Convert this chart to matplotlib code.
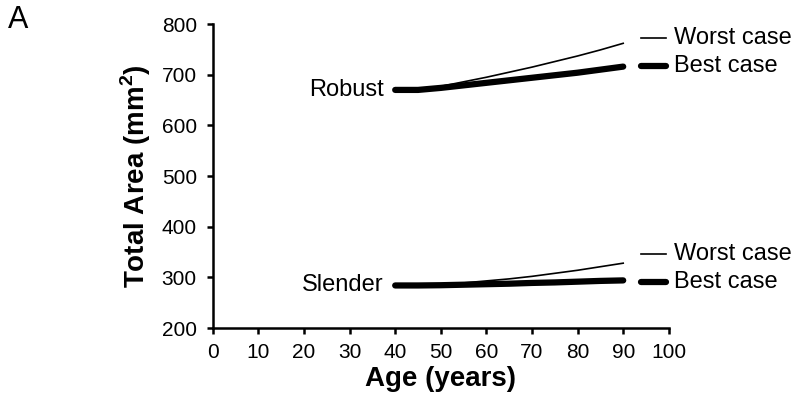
import matplotlib
matplotlib.use("Agg")
from matplotlib import pyplot as plt

plt.rcParams['font.family'] = ['Liberation Sans', 'DejaVu Sans']

# ages (years)
age = [40, 45, 50, 55, 60, 65, 70, 75, 80, 85, 90]

# total area (mm^2)
robust_worst = [670, 670, 677, 686, 695, 705, 715, 726, 737, 749, 762]
robust_best = [670, 670, 674, 679, 684, 689, 694, 699, 704, 710, 716]
slender_worst = [284, 284, 286, 289, 293, 297, 302, 308, 314, 321, 328]
slender_best = [284, 284, 284.5, 285.5, 286.5, 287.5, 289, 290, 291.5, 293, 294]

xticks = list(range(0, 101, 10))
yticks = list(range(200, 801, 100))

fig = plt.figure(figsize=(8, 4.01), dpi=100)
ax = fig.add_axes([0.266, 0.182, 0.57, 0.758])

ax.plot(age, robust_worst, color='black', lw=1.2)
ax.plot(age, robust_best, color='black', lw=4.5, solid_capstyle='round')
ax.plot(age, slender_worst, color='black', lw=1.2)
ax.plot(age, slender_best, color='black', lw=4.5, solid_capstyle='round')

ax.text(37.5, 670, 'Robust', ha='right', va='center', fontsize=17)
ax.text(37.5, 284, 'Slender', ha='right', va='center', fontsize=17)

# key entries next to each group
for yw, yb in [(772, 717), (346, 290)]:
    ax.plot([94, 99.3], [yw, yw], color='black', lw=1.2, clip_on=False)
    ax.plot([94, 99.3], [yb, yb], color='black', lw=4.5, clip_on=False,
            solid_capstyle='round')
    ax.text(101.2, yw, 'Worst case', ha='left', va='center', fontsize=17)
    ax.text(101.2, yb, 'Best case', ha='left', va='center', fontsize=17)

ax.set_xlim(0, 100)
ax.set_ylim(200, 800)
ax.set_xticks(xticks)
ax.set_yticks(yticks)
ax.tick_params(labelsize=15, width=1.8, length=4.5, direction='out')
ax.tick_params(axis='x', pad=6)
ax.tick_params(axis='y', pad=7)
for s in ['top', 'right']:
    ax.spines[s].set_visible(False)
for s in ['left', 'bottom']:
    ax.spines[s].set_linewidth(1.8)

ax.set_xlabel('Age (years)', fontsize=20, fontweight='bold', labelpad=3)
ax.set_ylabel('Total Area (mm$^\\mathregular{2}$)', fontsize=20, fontweight='bold',
              labelpad=6)

fig.text(0.01, 0.93, 'A', fontsize=22)

plt.savefig('out.png', dpi=100)
